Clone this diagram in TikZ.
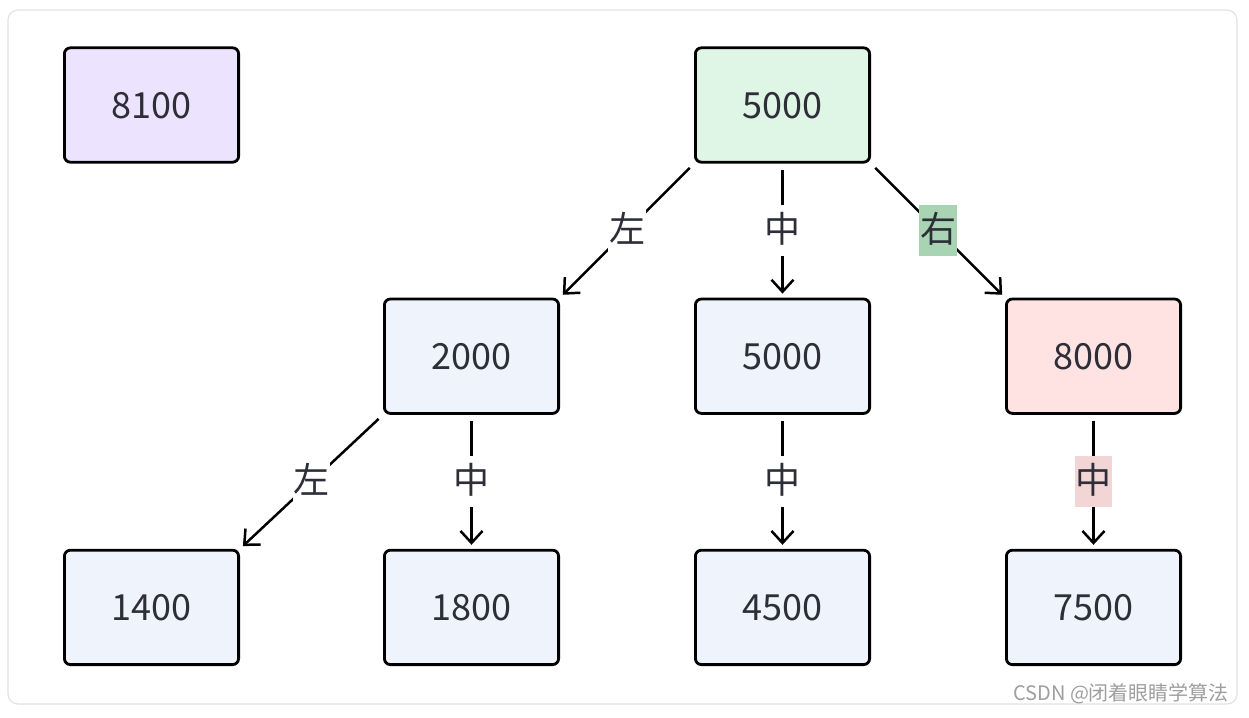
\documentclass[tikz,border=0pt]{standalone}
\usepackage{fontspec}
\setmainfont{Noto Sans CJK SC}
\usetikzlibrary{positioning,arrows.meta}
\definecolor{txtgray}{HTML}{2E2E38}
\definecolor{framegray}{HTML}{E2E2E6}
\definecolor{fillpurple}{HTML}{ECE3FF}
\definecolor{fillgreen}{HTML}{DFF5E6}
\definecolor{fillblue}{HTML}{EFF3FC}
\definecolor{fillred}{HTML}{FFE3E3}
\definecolor{lblgreen}{HTML}{A8D4B4}
\definecolor{lblred}{HTML}{F2D6D6}
\begin{document}
\begin{tikzpicture}[x=0.5pt,y=-0.5pt,
   box/.style = {draw=black, line width=1.4pt, rounded corners=3pt,
      minimum width=87.1pt, minimum height=57.2pt, text=txtgray,
      text height=13pt, text depth=0pt,
      font=\fontsize{18}{21}\selectfont},
   edge/.style = {line width=1.25pt, -{Straight Barb[length=6pt,width=11pt]},
      shorten <=3pt, shorten >=2pt},
   lbl/.style = {fill=white, text=txtgray, inner xsep=0.3pt, inner ysep=0pt,
      minimum height=25.5pt, text height=14.5pt, text depth=3pt,
      font=\fontsize{18}{20}\selectfont}
]
   \useasboundingbox (0,0) rectangle (1249,718);
   \draw[framegray, line width=0.6pt, rounded corners=5pt] (8,10) rectangle (1237,704);

   \node[box, fill=fillpurple] (n8100) at (151.5,105) {8100};
   \node[box, fill=fillgreen] (root) at (782.5,105) {5000};

   \node[box, fill=fillblue, below left =67pt and 67pt of root] (n2000) {2000};
   \node[box, fill=fillblue, below =67pt of root] (n5000) {5000};
   \node[box, fill=fillred, below right=67pt and 67pt of root] (n8000) {8000};

   \node[box, fill=fillblue, below left =67pt and 71.5pt of n2000] (n1400) {1400};
   \node[box, fill=fillblue, below =67pt of n2000] (n1800) {1800};
   \node[box, fill=fillblue, below =67pt of n5000] (n4500) {4500};
   \node[box, fill=fillblue, below =67pt of n8000] (n7500) {7500};

   \draw[edge] (root.south west) -- node[lbl] {左} (n2000.north east);
   \draw[edge] (root) -- node[lbl] {中} (n5000);
   \draw[edge] (root.south east) -- node[lbl, fill=lblgreen] {右} (n8000.north west);
   \draw[edge] (n2000.south west) -- node[lbl] {左} (n1400.north east);
   \draw[edge] (n2000) -- node[lbl] {中} (n1800);
   \draw[edge] (n5000) -- node[lbl] {中} (n4500);
   \draw[edge] (n8000) -- node[lbl, fill=lblred] {中} (n7500);

   \node[text=black!38, font=\fontsize{10}{11}\selectfont, anchor=east] (mark) at (1236,694) {CSDN @闭着眼睛学算法};
\end{tikzpicture}
\end{document}
